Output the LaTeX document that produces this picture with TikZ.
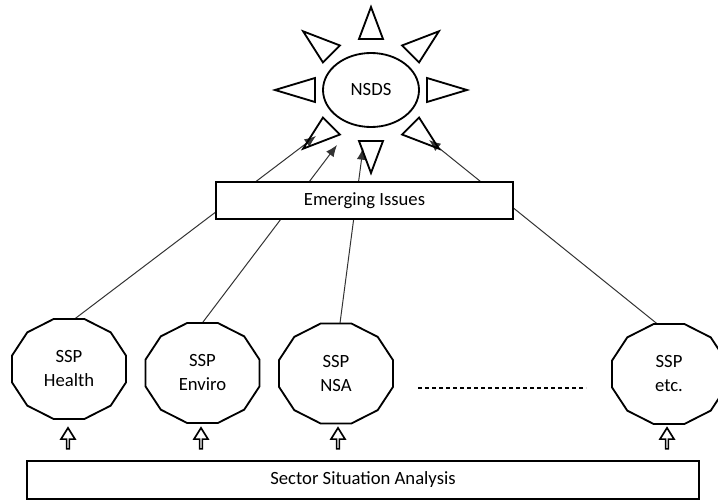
\documentclass[tikz,border=0pt]{standalone}
\usepackage{fontspec}
\setmainfont{Carlito}
\usetikzlibrary{shapes.geometric,shapes.arrows,arrows.meta,calc,backgrounds}

\tikzset{
	box/.style={draw,line width=1pt,fill=white,inner sep=0pt},
	ssp/.style={minimum width=68.4pt,minimum height=60pt,align=center,inner sep=0pt},
	outline/.style={line width=1.1pt,line join=miter},
	feed/.style={single arrow,draw,line width=1pt,shape border rotate=90,minimum height=12.6pt,minimum width=8.4pt,single arrow head extend=2pt,single arrow tip angle=64,inner sep=0pt},
	link/.style={draw=black!80,line width=0.6pt,-{Latex[length=7pt,width=5.6pt]}},
}

\begin{document}
\begin{tikzpicture}[x=0.6pt,y=-0.6pt,font=\fontsize{11.2}{14.4}\selectfont]
	\clip (0,0) rectangle (718,500);
	\node[ellipse,draw,line width=1.1pt,minimum width=57.6pt,minimum height=44.4pt] (nsds) at (371,90) {NSDS};
	\foreach \a in {0,45,...,315}
		\draw[outline] ($(nsds.center)+({56*cos(\a)-12*sin(\a)},{51*sin(\a)+12*cos(\a)})$) -- ($(nsds.center)+({96*cos(\a)},{83*sin(\a)})$) -- ($(nsds.center)+({56*cos(\a)+12*sin(\a)},{51*sin(\a)-12*cos(\a)})$) -- cycle;
	\node[box,minimum width=178.2pt,minimum height=22.2pt] (issues) at (364.5,200.5) {Emerging Issues};

	\node[ssp] (health) at (69,369) {SSP\\Health};
	\node[ssp] (enviro) at (202.5,373) {SSP\\Enviro};
	\node[ssp] (nsa) at (336,373.5) {SSP\\NSA};
	\node[ssp] (etc) at (669,374) {SSP\\etc.};
	\foreach \n in {health,enviro,nsa,etc} {
		\begin{scope}[shift={(\n.center)}]
			\draw[outline] (15:59 and 51.8) \foreach \k in {1,...,11} {-- ({15+30*\k}:59 and 51.8)} -- cycle;
		\end{scope}
	}
	\coordinate (dashl) at (418,388);
	\coordinate (dashr) at (586,388);
	\draw[line width=0.9pt,dash pattern=on 2.4pt off 1.8pt] (dashl) -- (dashr);

	\foreach \n/\x in {health/68,enviro/201,nsa/338,etc/667}
		\node[feed] (up\n) at (\x,439.5) {};
	\node[box,minimum width=403.2pt,minimum height=22.8pt] (analysis) at (363,480) {Sector Situation Analysis};

	\begin{scope}[on background layer]
		\coordinate (tip1) at (316,136);
		\coordinate (tip2) at (337,145);
		\coordinate (tip3) at (363,148);
		\coordinate (tip4) at (429,140);
		\draw[link] ([xshift=3.6pt]health.north) -- (tip1);
		\draw[link] (enviro.north) -- (tip2);
		\draw[link] ([xshift=2.4pt]nsa.north) -- (tip3);
		\draw[link] ([xshift=-7.2pt]etc.north) -- (tip4);
	\end{scope}
\end{tikzpicture}
\end{document}
